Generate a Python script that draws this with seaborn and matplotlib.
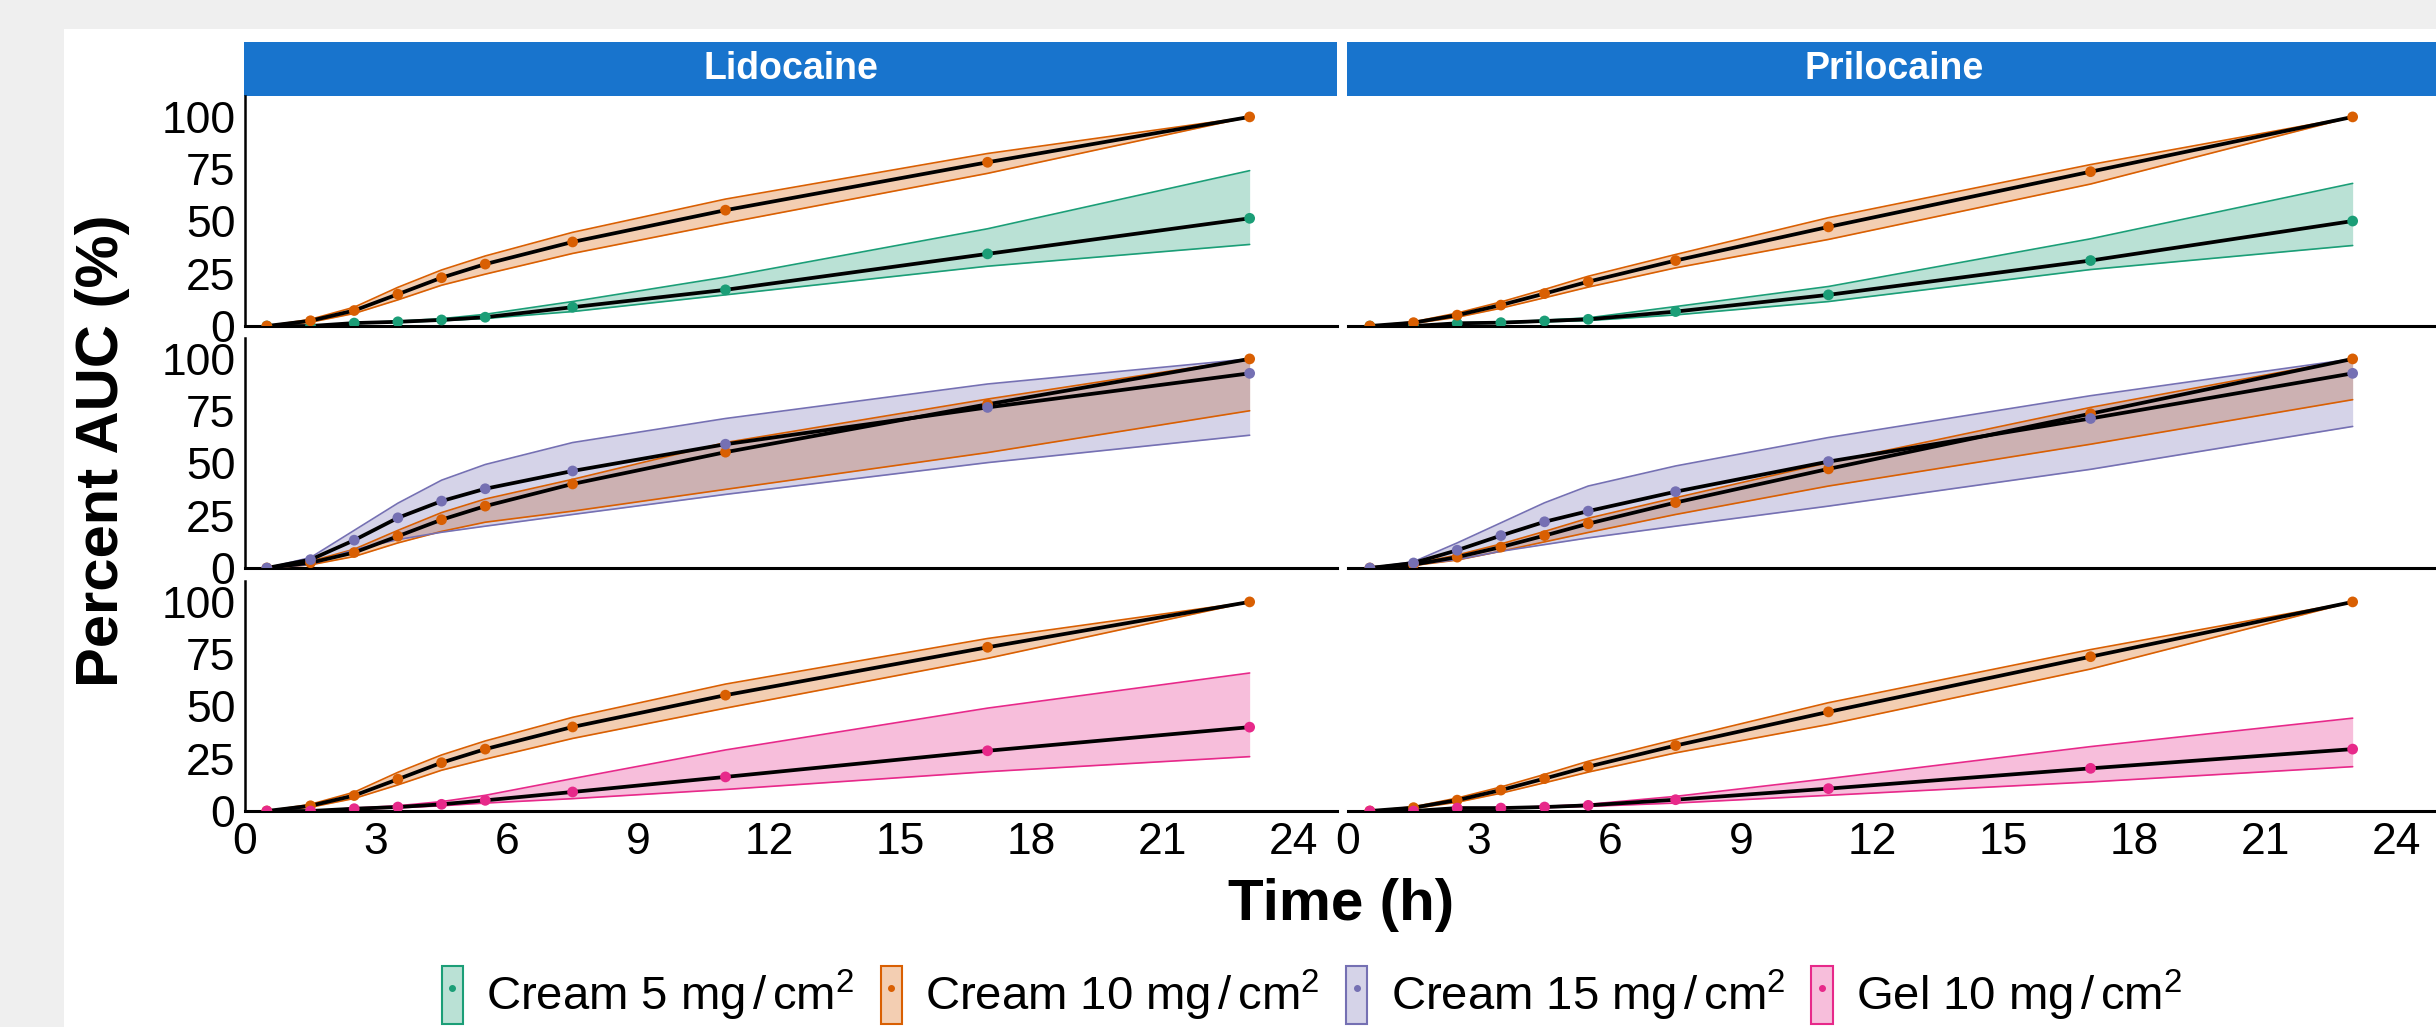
import matplotlib
matplotlib.use("Agg")
import matplotlib.pyplot as plt
import seaborn as sns
import pandas as pd
from matplotlib.patches import Rectangle, Patch
from matplotlib.lines import Line2D
from matplotlib.colors import to_rgba

sns.set_style("white")
plt.rcParams['font.family'] = ['Liberation Sans', 'DejaVu Sans']
plt.rcParams['mathtext.fontset'] = 'custom'
plt.rcParams['mathtext.rm'] = 'Liberation Sans'
plt.rcParams['mathtext.it'] = 'Liberation Sans:italic'
plt.rcParams['text.color'] = 'black'

# sampling times (h)
TIME = [0.5, 1.5, 2.5, 3.5, 4.5, 5.5, 7.5, 11, 17, 23]
DRUGS = ["Lidocaine", "Prilocaine"]
PRODUCTS = ["Cream 5", "Cream 10", "Cream 15", "Gel 10"]
LEGEND_LABELS = [r"Cream 5 mg$\,/\,$cm$^2$", r"Cream 10 mg$\,/\,$cm$^2$",
                 r"Cream 15 mg$\,/\,$cm$^2$", r"Gel 10 mg$\,/\,$cm$^2$"]
COLORS = ["#1B9E77", "#D95F02", "#7570B3", "#E7298A"]
X_TICKS = [0, 3, 6, 9, 12, 15, 18, 21, 24]
Y_TICKS = [0, 25, 50, 75, 100]

# ---- Lidocaine: mean percent AUC and ribbon bounds
lido_c10 = [0, 2.5, 7.4, 15.2, 23.1, 29.6, 40.2, 55.4, 78.3, 100]
lido_c10_lo = [0, 1.8, 6.0, 12.5, 19.5, 24.8, 34.7, 49.2, 73.0, 100]
lido_c10_hi = [0, 3.2, 9.0, 18.5, 26.8, 33.5, 44.8, 60.7, 82.5, 100]
lido_c10_lo_r2 = [0, 1.5, 5.5, 12.0, 17.5, 21.9, 27.2, 37.6, 55.2, 75.2]
lido_c10_hi_r2 = [0, 3.2, 9.0, 18.0, 26.5, 33.0, 42.4, 60.0, 80.8, 100]

lido_c5 = [0, 0, 1.4, 2.0, 2.9, 4.2, 9.0, 17.3, 34.5, 51.5]
lido_c5_lo = [0, 0, 1.2, 1.8, 2.5, 3.6, 6.9, 14.9, 28.6, 39.0]
lido_c5_hi = [0, 0, 1.6, 2.3, 3.5, 5.6, 11.7, 23.4, 46.5, 74.3]

lido_c15 = [0, 4.0, 13.3, 24.0, 32.0, 37.9, 46.4, 59.2, 76.8, 93.1]
lido_c15_lo = [0, 1.6, 8.8, 13.6, 17.1, 20.0, 25.6, 35.2, 50.4, 63.5]
lido_c15_hi = [0, 5.0, 18.0, 31.0, 42.0, 49.5, 60.0, 71.5, 88.0, 100]

lido_gel = [0, 0, 1.1, 1.9, 3.2, 5.1, 9.1, 16.3, 28.8, 40.1]
lido_gel_lo = [0, 0, 0.8, 1.5, 2.5, 3.8, 5.9, 10.3, 18.8, 26.0]
lido_gel_hi = [0, 0, 1.4, 2.5, 4.5, 7.5, 15.5, 29.2, 49.2, 66.0]

# ---- Prilocaine
prilo_c10 = [0, 1.6, 5.2, 10.0, 15.5, 21.2, 31.3, 47.4, 73.8, 100]
prilo_c10_lo = [0, 1.2, 4.2, 8.5, 13.5, 18.6, 27.8, 41.4, 67.9, 100]
prilo_c10_hi = [0, 2.0, 6.2, 11.5, 17.5, 23.8, 34.2, 51.8, 77.2, 100]
prilo_c10_lo_r2 = [0, 1.2, 3.8, 8.0, 12.5, 17.0, 25.6, 39.2, 59.2, 80.5]
prilo_c10_hi_r2 = [0, 2.0, 6.2, 11.5, 17.5, 23.8, 33.6, 50.4, 76.8, 100]

prilo_c5 = [0, 0, 1.3, 1.6, 2.4, 3.2, 6.9, 14.9, 31.3, 50.2]
prilo_c5_lo = [0, 0, 1.1, 1.4, 2.0, 2.6, 5.3, 11.7, 27.0, 38.5]
prilo_c5_hi = [0, 0, 1.5, 1.9, 2.8, 3.9, 9.3, 18.9, 41.7, 68.2]

prilo_c15 = [0, 2.4, 8.5, 15.5, 22.1, 27.2, 36.5, 50.9, 71.5, 93.1]
prilo_c15_lo = [0, 1.6, 4.0, 8.0, 11.2, 14.4, 20.0, 29.6, 47.2, 67.7]
prilo_c15_hi = [0, 3.0, 12.0, 21.6, 31.2, 39.2, 48.8, 62.4, 82.4, 100]

prilo_gel = [0, 0, 1.4, 1.4, 1.9, 2.7, 5.4, 10.7, 20.4, 29.6]
prilo_gel_lo = [0, 0, 1.2, 1.2, 1.6, 2.2, 3.8, 7.5, 13.9, 21.2]
prilo_gel_hi = [0, 0, 1.6, 1.6, 2.2, 3.2, 7.0, 15.5, 30.8, 44.4]

# each row: list of (product index, mean, lo, hi) per drug
panels = {
    "Lidocaine": [
        [(0, lido_c5, lido_c5_lo, lido_c5_hi), (1, lido_c10, lido_c10_lo, lido_c10_hi)],
        [(1, lido_c10, lido_c10_lo_r2, lido_c10_hi_r2), (2, lido_c15, lido_c15_lo, lido_c15_hi)],
        [(1, lido_c10, lido_c10_lo, lido_c10_hi), (3, lido_gel, lido_gel_lo, lido_gel_hi)],
    ],
    "Prilocaine": [
        [(0, prilo_c5, prilo_c5_lo, prilo_c5_hi), (1, prilo_c10, prilo_c10_lo, prilo_c10_hi)],
        [(1, prilo_c10, prilo_c10_lo_r2, prilo_c10_hi_r2), (2, prilo_c15, prilo_c15_lo, prilo_c15_hi)],
        [(1, prilo_c10, prilo_c10_lo, prilo_c10_hi), (3, prilo_gel, prilo_gel_lo, prilo_gel_hi)],
    ],
}

W, H = 2436, 1027
fig = plt.figure(figsize=(W / 100, H / 100), dpi=100, facecolor="#efefef")
fig.patches.append(Rectangle((64 / W, 0), 1, 1 - 29 / H, transform=fig.transFigure,
                             facecolor="white", edgecolor="none", zorder=-2))

col_x = [245, 1348]
col_w = 1092
rows_px = [(96, 326), (338, 568), (581, 811)]
STRIP_BLUE = "#1874CD"

for ci, drug in enumerate(DRUGS):
    x0 = col_x[ci]
    # facet strip
    fig.patches.append(Rectangle(((x0 - 1) / W, 1 - 96 / H), (col_w + 1) / W, 54 / H,
                                 transform=fig.transFigure, facecolor=STRIP_BLUE,
                                 edgecolor="none", zorder=-1))
    fig.text((x0 + col_w / 2) / W, 1 - 69 / H, drug, color="white", fontsize=27,
             fontweight="bold", ha="center", va="center")
    for ri, (top, bot) in enumerate(rows_px):
        ax = fig.add_axes([x0 / W, 1 - bot / H, col_w / W, (bot - top) / H])
        ax.set_zorder(2)
        ax.set_facecolor("none")
        for pi, mean, lo, hi in panels[drug][ri]:
            c = COLORS[pi]
            ax.fill_between(TIME, lo, hi, color=c, alpha=0.3, linewidth=0, zorder=2)
            sns.lineplot(x=TIME, y=lo, color=c, linewidth=1.2, ax=ax, zorder=3)
            sns.lineplot(x=TIME, y=hi, color=c, linewidth=1.2, ax=ax, zorder=3)
        for pi, mean, lo, hi in panels[drug][ri]:
            sns.lineplot(x=TIME, y=mean, color="black", linewidth=2.7, ax=ax, zorder=4)
        for pi, mean, lo, hi in panels[drug][ri]:
            df = pd.DataFrame({"time": TIME, "auc": mean})
            sns.scatterplot(data=df, x="time", y="auc", color=COLORS[pi], s=60,
                            edgecolor="none", ax=ax, zorder=5)
        ax.set_xlim(0, 25)
        ax.set_ylim(0, 110)
        ax.set_xticks(X_TICKS)
        ax.set_yticks(Y_TICKS)
        ax.set_xlabel("")
        ax.set_ylabel("")
        for s in ["top", "right"]:
            ax.spines[s].set_visible(False)
        ax.spines["bottom"].set_linewidth(2.2)
        ax.spines["bottom"].set_color("black")
        ax.spines["left"].set_linewidth(1.8)
        ax.spines["left"].set_color("black")
        ax.tick_params(axis="both", labelsize=32, colors="black", width=1.2)
        ax.tick_params(axis="y", length=4, pad=3)
        ax.tick_params(axis="x", length=5, pad=3)
        if ci == 1:
            ax.spines["left"].set_visible(False)
            ax.tick_params(axis="y", left=False, labelleft=False)
        if ri < 2:
            ax.tick_params(axis="x", bottom=False, labelbottom=False)

fig.text(103 / W, 1 - 451 / H, "Percent AUC (%)", rotation=90, fontsize=43,
         fontweight="bold", ha="center", va="center")
fig.text(1341 / W, 1 - 905 / H, "Time (h)", fontsize=42, fontweight="bold",
         ha="center", va="center")

handles = [(Patch(facecolor=to_rgba(c, 0.3), edgecolor=c, linewidth=1.5),
            Line2D([], [], marker="o", color=c, linestyle="none", markersize=4))
           for c in COLORS]
fig.legend(handles, LEGEND_LABELS, loc="center", bbox_to_anchor=(1312 / W, 1 - 995 / H),
           ncol=4, frameon=False, fontsize=34, handlelength=0.45, handleheight=1.5,
           handletextpad=0.5, columnspacing=0.55, borderaxespad=0)

fig.savefig("out.png", dpi=100, facecolor=fig.get_facecolor())
